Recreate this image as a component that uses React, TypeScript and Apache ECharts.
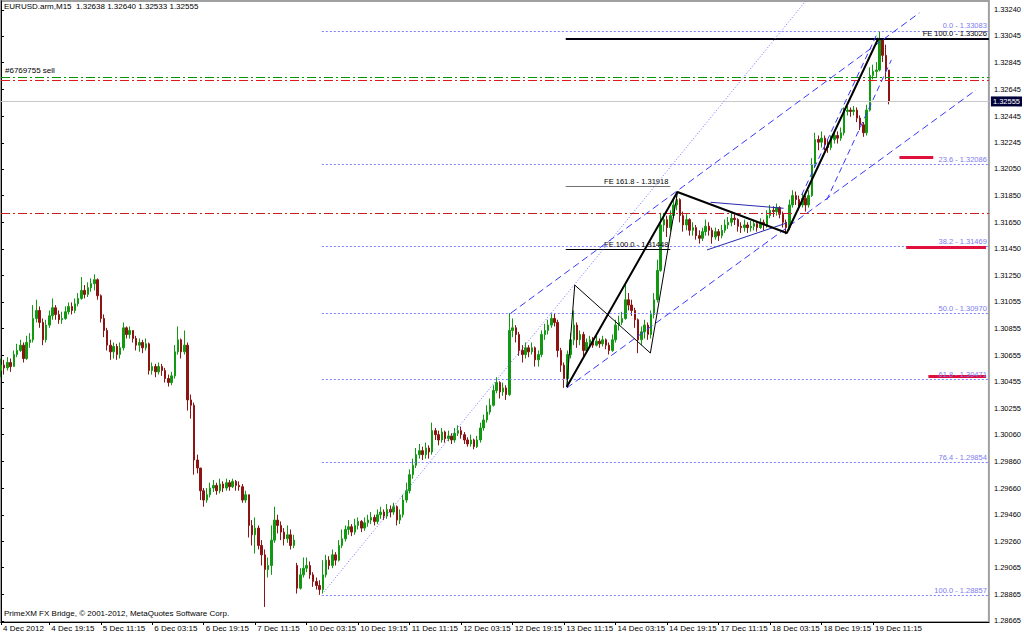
import React, { useEffect, useRef } from "react";
import * as echarts from "echarts";

// ---------- categories (hourly bars, :15) ----------
const tradingDays = ["4 Dec", "5 Dec", "6 Dec", "7 Dec", "10 Dec", "11 Dec", "12 Dec", "13 Dec", "14 Dec", "17 Dec", "18 Dec", "19 Dec"];
const firstBarHour = 4;
const lastBarHour = 16;
const emptySlots = 31;
const firstLabel = "4 Dec 2012";

// ---------- OHLC values ----------
const opens = [
  1.3054, 1.3058, 1.3056, 1.3060, 1.3057, 1.3066, 1.3069, 1.3073, 1.3063, 1.3075,
  1.3077, 1.3093, 1.3099, 1.3090, 1.3077, 1.3088, 1.3095, 1.3101, 1.3096, 1.3092,
  1.3093, 1.3098, 1.3102, 1.3099, 1.3104, 1.3108, 1.3114, 1.3111, 1.3116, 1.3119,
  1.3122, 1.3110, 1.3093, 1.3084, 1.3073, 1.3068, 1.3072, 1.3066, 1.3071, 1.3086,
  1.3081, 1.3084, 1.3078, 1.3073, 1.3075, 1.3071, 1.3074, 1.3054, 1.3057, 1.3053,
  1.3057, 1.3054, 1.3048, 1.3045, 1.3050, 1.3068, 1.3077, 1.3068, 1.3073, 1.3032,
  1.3028, 1.2987, 1.2981, 1.2964, 1.2957, 1.2961, 1.2966, 1.2968, 1.2964, 1.2969,
  1.2966, 1.2970, 1.2967, 1.2971, 1.2968, 1.2967, 1.2957, 1.2961, 1.2938, 1.2931,
  1.2936, 1.2923, 1.2916, 1.2905, 1.2908, 1.2927, 1.2942, 1.2938, 1.2933, 1.2928,
  1.2931, 1.2923, 1.2908, 1.2891, 1.2901, 1.2906, 1.2908, 1.2901, 1.2896, 1.2893,
  1.2890, 1.2901, 1.2912, 1.2908, 1.2916, 1.2912, 1.2923, 1.2928, 1.2935, 1.2937,
  1.2933, 1.2938, 1.2941, 1.2936, 1.2940, 1.2942, 1.2944, 1.2941, 1.2946, 1.2948,
  1.2945, 1.2950, 1.2948, 1.2952, 1.2942, 1.2946, 1.2957, 1.2964, 1.2976, 1.2983,
  1.2991, 1.2994, 1.2991, 1.2996, 1.2993, 1.3009, 1.3006, 1.3002, 1.3008, 1.3003,
  1.3005, 1.3002, 1.3007, 1.3009, 1.3006, 1.3002, 1.2999, 1.3002, 1.2997, 1.3002,
  1.3011, 1.3017, 1.3023, 1.3028, 1.3039, 1.3045, 1.3038, 1.3041, 1.3036, 1.3084,
  1.3086, 1.3081, 1.3069, 1.3066, 1.3071, 1.3068, 1.3071, 1.3062, 1.3066, 1.3081,
  1.3084, 1.3088, 1.3093, 1.3090, 1.3069, 1.3058, 1.3048, 1.3066, 1.3077, 1.3088,
  1.3077, 1.3081, 1.3069, 1.3075, 1.3077, 1.3073, 1.3076, 1.3074, 1.3077, 1.3073,
  1.3069, 1.3077, 1.3088, 1.3090, 1.3093, 1.3107, 1.3103, 1.3099, 1.3092, 1.3077,
  1.3083, 1.3088, 1.3081, 1.3096, 1.3107, 1.3129, 1.3163, 1.3167, 1.3161, 1.3170,
  1.3178, 1.3182, 1.3170, 1.3163, 1.3167, 1.3159, 1.3161, 1.3155, 1.3153, 1.3158,
  1.3162, 1.3159, 1.3154, 1.3158, 1.3155, 1.3159, 1.3163, 1.3165, 1.3168, 1.3167,
  1.3162, 1.3161, 1.3163, 1.3161, 1.3162, 1.3164, 1.3161, 1.3165, 1.3163, 1.3170,
  1.3174, 1.3173, 1.3176, 1.3171, 1.3165, 1.3161, 1.3178, 1.3185, 1.3182, 1.3178,
  1.3183, 1.3178, 1.3185, 1.3208, 1.3227, 1.3225, 1.3228, 1.3223, 1.3221, 1.3227,
  1.3230, 1.3228, 1.3232, 1.3248, 1.3249, 1.3248, 1.3249, 1.3243, 1.3238, 1.3232,
  1.3249, 1.3275, 1.3278, 1.3279, 1.3302, 1.3290, 1.3279,
];
const highs = [
  1.3063, 1.3062, 1.3064, 1.3063, 1.3069, 1.3074, 1.3077, 1.3075, 1.3080, 1.3082,
  1.3103, 1.3107, 1.3102, 1.3093, 1.3092, 1.3099, 1.3108, 1.3103, 1.3099, 1.3098,
  1.3102, 1.3105, 1.3105, 1.3108, 1.3112, 1.3124, 1.3118, 1.3120, 1.3123, 1.3126,
  1.3123, 1.3111, 1.3096, 1.3086, 1.3077, 1.3075, 1.3074, 1.3075, 1.3090, 1.3087,
  1.3087, 1.3084, 1.3080, 1.3078, 1.3077, 1.3078, 1.3075, 1.3060, 1.3059, 1.3060,
  1.3059, 1.3056, 1.3051, 1.3053, 1.3073, 1.3087, 1.3078, 1.3084, 1.3075, 1.3036,
  1.3030, 1.2991, 1.2980, 1.2966, 1.2966, 1.2970, 1.2972, 1.2970, 1.2973, 1.2971,
  1.2973, 1.2972, 1.2973, 1.2972, 1.2971, 1.2969, 1.2964, 1.2961, 1.2942, 1.2944,
  1.2938, 1.2927, 1.2920, 1.2914, 1.2938, 1.2952, 1.2946, 1.2941, 1.2936, 1.2938,
  1.2935, 1.2931, 1.2910, 1.2906, 1.2914, 1.2914, 1.2911, 1.2903, 1.2899, 1.2897,
  1.2912, 1.2916, 1.2915, 1.2920, 1.2918, 1.2927, 1.2935, 1.2938, 1.2942, 1.2939,
  1.2943, 1.2944, 1.2942, 1.2944, 1.2946, 1.2948, 1.2946, 1.2950, 1.2952, 1.2950,
  1.2954, 1.2953, 1.2955, 1.2953, 1.2950, 1.2961, 1.2970, 1.2980, 1.2988, 1.2996,
  1.2999, 1.2997, 1.3000, 1.2998, 1.3015, 1.3011, 1.3009, 1.3011, 1.3009, 1.3009,
  1.3007, 1.3011, 1.3013, 1.3012, 1.3008, 1.3004, 1.3006, 1.3003, 1.3005, 1.3015,
  1.3021, 1.3028, 1.3033, 1.3043, 1.3049, 1.3046, 1.3045, 1.3043, 1.3097, 1.3093,
  1.3088, 1.3083, 1.3073, 1.3075, 1.3073, 1.3075, 1.3072, 1.3069, 1.3084, 1.3089,
  1.3092, 1.3097, 1.3097, 1.3092, 1.3071, 1.3060, 1.3069, 1.3082, 1.3099, 1.3090,
  1.3084, 1.3083, 1.3078, 1.3080, 1.3079, 1.3080, 1.3078, 1.3080, 1.3078, 1.3075,
  1.3081, 1.3092, 1.3095, 1.3098, 1.3120, 1.3112, 1.3107, 1.3101, 1.3093, 1.3087,
  1.3092, 1.3090, 1.3099, 1.3112, 1.3137, 1.3172, 1.3172, 1.3170, 1.3174, 1.3183,
  1.3188, 1.3183, 1.3173, 1.3171, 1.3168, 1.3165, 1.3163, 1.3159, 1.3161, 1.3167,
  1.3165, 1.3161, 1.3161, 1.3160, 1.3163, 1.3167, 1.3169, 1.3172, 1.3171, 1.3168,
  1.3165, 1.3167, 1.3165, 1.3166, 1.3167, 1.3166, 1.3168, 1.3167, 1.3174, 1.3178,
  1.3177, 1.3179, 1.3177, 1.3173, 1.3167, 1.3182, 1.3189, 1.3188, 1.3185, 1.3187,
  1.3185, 1.3189, 1.3213, 1.3232, 1.3230, 1.3233, 1.3230, 1.3227, 1.3230, 1.3234,
  1.3233, 1.3236, 1.3251, 1.3252, 1.3251, 1.3252, 1.3251, 1.3245, 1.3240, 1.3253,
  1.3281, 1.3283, 1.3285, 1.3308, 1.3303, 1.3298, 1.3279,
];
const lows = [
  1.3049, 1.3051, 1.3054, 1.3053, 1.3057, 1.3064, 1.3068, 1.3060, 1.3062, 1.3071,
  1.3075, 1.3090, 1.3086, 1.3073, 1.3075, 1.3086, 1.3092, 1.3092, 1.3089, 1.3089,
  1.3092, 1.3096, 1.3096, 1.3097, 1.3102, 1.3107, 1.3108, 1.3109, 1.3113, 1.3114,
  1.3107, 1.3090, 1.3079, 1.3069, 1.3062, 1.3063, 1.3062, 1.3063, 1.3069, 1.3078,
  1.3078, 1.3075, 1.3069, 1.3068, 1.3067, 1.3069, 1.3051, 1.3051, 1.3049, 1.3051,
  1.3050, 1.3045, 1.3042, 1.3043, 1.3048, 1.3066, 1.3063, 1.3066, 1.3024, 1.3018,
  1.2976, 1.2977, 1.2957, 1.2952, 1.2955, 1.2959, 1.2963, 1.2961, 1.2962, 1.2963,
  1.2964, 1.2964, 1.2966, 1.2964, 1.2964, 1.2955, 1.2955, 1.2929, 1.2923, 1.2917,
  1.2920, 1.2908, 1.2877, 1.2899, 1.2901, 1.2925, 1.2932, 1.2927, 1.2923, 1.2925,
  1.2920, 1.2921, 1.2887, 1.2890, 1.2899, 1.2903, 1.2898, 1.2892, 1.2890, 1.2886,
  1.2887, 1.2899, 1.2905, 1.2906, 1.2908, 1.2911, 1.2921, 1.2926, 1.2931, 1.2930,
  1.2931, 1.2935, 1.2933, 1.2934, 1.2937, 1.2939, 1.2938, 1.2939, 1.2943, 1.2942,
  1.2943, 1.2944, 1.2946, 1.2938, 1.2939, 1.2944, 1.2955, 1.2962, 1.2973, 1.2981,
  1.2988, 1.2987, 1.2988, 1.2988, 1.2991, 1.3002, 1.2998, 1.3000, 1.3000, 1.3001,
  1.2999, 1.3000, 1.3005, 1.3003, 1.2999, 1.2997, 1.2997, 1.2995, 1.2996, 1.3000,
  1.3009, 1.3015, 1.3021, 1.3027, 1.3037, 1.3033, 1.3035, 1.3032, 1.3035, 1.3079,
  1.3075, 1.3065, 1.3060, 1.3063, 1.3064, 1.3066, 1.3057, 1.3057, 1.3064, 1.3077,
  1.3081, 1.3086, 1.3087, 1.3064, 1.3053, 1.3041, 1.3043, 1.3063, 1.3073, 1.3071,
  1.3073, 1.3064, 1.3067, 1.3072, 1.3071, 1.3072, 1.3071, 1.3072, 1.3070, 1.3066,
  1.3068, 1.3075, 1.3084, 1.3088, 1.3092, 1.3099, 1.3095, 1.3086, 1.3067, 1.3073,
  1.3078, 1.3077, 1.3078, 1.3093, 1.3105, 1.3128, 1.3158, 1.3154, 1.3158, 1.3168,
  1.3174, 1.3165, 1.3158, 1.3159, 1.3155, 1.3155, 1.3152, 1.3149, 1.3151, 1.3155,
  1.3155, 1.3149, 1.3152, 1.3151, 1.3153, 1.3157, 1.3160, 1.3162, 1.3163, 1.3158,
  1.3157, 1.3158, 1.3157, 1.3158, 1.3159, 1.3158, 1.3160, 1.3159, 1.3161, 1.3168,
  1.3169, 1.3170, 1.3168, 1.3161, 1.3156, 1.3159, 1.3176, 1.3178, 1.3174, 1.3176,
  1.3173, 1.3176, 1.3184, 1.3206, 1.3219, 1.3221, 1.3219, 1.3217, 1.3219, 1.3224,
  1.3224, 1.3226, 1.3230, 1.3245, 1.3244, 1.3245, 1.3240, 1.3234, 1.3229, 1.3230,
  1.3248, 1.3272, 1.3273, 1.3278, 1.3285, 1.3272, 1.32533,
];
const closes = [
  1.3058, 1.3056, 1.3060, 1.3057, 1.3066, 1.3069, 1.3073, 1.3063, 1.3075, 1.3077,
  1.3093, 1.3099, 1.3090, 1.3077, 1.3088, 1.3095, 1.3101, 1.3096, 1.3092, 1.3093,
  1.3098, 1.3102, 1.3099, 1.3104, 1.3108, 1.3114, 1.3111, 1.3116, 1.3119, 1.3122,
  1.3110, 1.3093, 1.3084, 1.3073, 1.3068, 1.3072, 1.3066, 1.3071, 1.3086, 1.3081,
  1.3084, 1.3078, 1.3073, 1.3075, 1.3071, 1.3074, 1.3054, 1.3057, 1.3053, 1.3057,
  1.3054, 1.3048, 1.3045, 1.3050, 1.3068, 1.3077, 1.3068, 1.3073, 1.3032, 1.3028,
  1.2987, 1.2981, 1.2964, 1.2957, 1.2961, 1.2966, 1.2968, 1.2964, 1.2969, 1.2966,
  1.2970, 1.2967, 1.2971, 1.2968, 1.2967, 1.2957, 1.2961, 1.2938, 1.2931, 1.2936,
  1.2923, 1.2916, 1.2905, 1.2908, 1.2927, 1.2942, 1.2938, 1.2933, 1.2928, 1.2931,
  1.2923, 1.2927, 1.2891, 1.2901, 1.2906, 1.2908, 1.2901, 1.2896, 1.2893, 1.2890,
  1.2901, 1.2912, 1.2908, 1.2916, 1.2912, 1.2923, 1.2928, 1.2935, 1.2937, 1.2933,
  1.2938, 1.2941, 1.2936, 1.2940, 1.2942, 1.2944, 1.2941, 1.2946, 1.2948, 1.2945,
  1.2950, 1.2948, 1.2952, 1.2942, 1.2946, 1.2957, 1.2964, 1.2976, 1.2983, 1.2991,
  1.2994, 1.2991, 1.2996, 1.2993, 1.3009, 1.3006, 1.3002, 1.3008, 1.3003, 1.3005,
  1.3002, 1.3007, 1.3009, 1.3006, 1.3002, 1.2999, 1.3002, 1.2997, 1.3002, 1.3011,
  1.3017, 1.3023, 1.3028, 1.3039, 1.3045, 1.3038, 1.3041, 1.3036, 1.3084, 1.3086,
  1.3081, 1.3069, 1.3066, 1.3071, 1.3068, 1.3071, 1.3062, 1.3066, 1.3081, 1.3084,
  1.3088, 1.3093, 1.3090, 1.3069, 1.3058, 1.3048, 1.3066, 1.3077, 1.3088, 1.3077,
  1.3081, 1.3069, 1.3075, 1.3077, 1.3073, 1.3076, 1.3074, 1.3077, 1.3073, 1.3069,
  1.3077, 1.3088, 1.3090, 1.3093, 1.3107, 1.3103, 1.3099, 1.3092, 1.3077, 1.3083,
  1.3088, 1.3081, 1.3096, 1.3107, 1.3129, 1.3163, 1.3167, 1.3161, 1.3170, 1.3178,
  1.3182, 1.3170, 1.3163, 1.3167, 1.3159, 1.3161, 1.3155, 1.3153, 1.3158, 1.3162,
  1.3159, 1.3154, 1.3158, 1.3155, 1.3159, 1.3163, 1.3165, 1.3168, 1.3167, 1.3162,
  1.3161, 1.3163, 1.3161, 1.3162, 1.3164, 1.3161, 1.3165, 1.3163, 1.3170, 1.3174,
  1.3173, 1.3176, 1.3171, 1.3165, 1.3161, 1.3178, 1.3185, 1.3182, 1.3178, 1.3183,
  1.3178, 1.3185, 1.3208, 1.3227, 1.3225, 1.3228, 1.3223, 1.3221, 1.3227, 1.3230,
  1.3228, 1.3232, 1.3248, 1.3249, 1.3248, 1.3249, 1.3243, 1.3238, 1.3232, 1.3249,
  1.3275, 1.3278, 1.3279, 1.3302, 1.3290, 1.3279, 1.32555,
];

// ---------- price scale ticks ----------
const priceTicks = [
  1.3324, 1.33045, 1.32845, 1.32645, 1.32445, 1.32245, 1.3205, 1.3185, 1.3165, 1.3145, 1.3125, 1.31055,
  1.30855, 1.30655, 1.30455, 1.30255, 1.3006, 1.2986, 1.2966, 1.2946, 1.2926, 1.29065, 1.28865, 1.28665,
];
const priceMin = 1.28657;
const priceMax = 1.33307;
const bidPrice = 1.32555;

// ---------- header / footer ----------
const headerText = "EURUSD.arm,M15  1.32638 1.32640 1.32533 1.32555";
const footerText = "PrimeXM FX Bridge, \u00a9 2001-2012, MetaQuotes Software Corp.";

// ---------- order lines ----------
const orderLabel = "#6769755 sell";
const orderOpenPrice = 1.32738;
const orderSellPrice = 1.32716;
const takeProfitPrice = 1.3172;

// ---------- Fibonacci retracement ----------
const fibLevels = ["0.0", "23.6", "38.2", "50.0", "61.8", "76.4", "100.0"];
const fibPrices = [1.33083, 1.32086, 1.31469, 1.3097, 1.30471, 1.29854, 1.28857];
const fibStartBar = 99.7;

// ---------- Fibonacci expansion ----------
const feNames = ["FE 100.0", "FE 161.8", "FE 100.0"];
const fePrices = [1.33026, 1.31918, 1.31448];
const feStartBars = [175.5, 175.5, 175.5];
const feEndBars = [307, 208, 208];

// ---------- Elliott wave labels ----------
const waveNames = ["(A)", "(B)", "(C)", "A", "B", "C"];
const waveBars = [157.8, 175.2, 272.7, 210.2, 244.2, 272.7];
const wavePrices = [1.31083, 1.30319, 1.33255, 1.31967, 1.31487, 1.33158];

// ---------- drawn lines: [bar, price] ----------
const waveZigzag = [[175.8, 1.30416], [210.2, 1.31877], [244.2, 1.3157], [272.7, 1.3303]];
const subWaveZigzag = [[175.8, 1.30416], [178.3, 1.3118], [201.8, 1.30671], [210.2, 1.3187]];
const triangleUpper = [[220.5, 1.318], [243.2, 1.31755]];
const triangleLower = [[219.4, 1.31443], [244.2, 1.31645]];
const channelUpper = [[158.5, 1.30971], [285.4, 1.33218]];
const channelLower = [[175.8, 1.30409], [303.0, 1.32641]];
const cLegLeft = [[248.8, 1.31854], [272.1, 1.33053]];
const cLegRight = [[256.6, 1.31817], [276.7, 1.32866]];
const dottedTrend = [[100.3, 1.28881], [250.1, 1.33308]];
const targetBars = [[279.2, 289.7], [281.3, 306.1], [288.2, 306.1]];
const targetPrices = [1.32139, 1.31465, 1.30499];

const SANS = "'Liberation Sans', Arial, sans-serif";
const SERIF = "'Liberation Serif', 'Times New Roman', serif";

function buildOption() {
  const times: string[] = [];
  tradingDays.forEach((d, di) => {
    const h0 = di === 0 ? firstBarHour : 0;
    const h1 = di === tradingDays.length - 1 ? lastBarHour : 23;
    for (let h = h0; h <= h1; h++) times.push(`${d} ${String(h).padStart(2, "0")}:15`);
  });
  const realCount = times.length;
  const categories = [...times];
  for (let k = 0; k < emptySlots; k++) categories.push(`_${k}`);
  const lastIdx = categories.length - 1;

  const candles = closes.map((c, i) => {
    const o = opens[i];
    return [o, c, Math.min(lows[i], o, c), Math.max(highs[i], o, c)];
  });

  const showLabel = (index: number) =>
    index === 0 || (index >= 15 && (index - 15) % 16 === 0 && index < realCount);

  const lineS = (points: number[][], style: any, z = 5) => ({
    type: "line",
    xAxisIndex: 1,
    yAxisIndex: 0,
    data: points,
    symbol: "none",
    silent: true,
    clip: true,
    z,
    lineStyle: style,
  });

  const labelStyle = (color: string, size = 7.5) => ({
    show: true,
    color,
    fontSize: size,
    fontFamily: SANS,
    distance: [2, 1],
  });

  const segs: any[] = [];
  segs.push([
    { coord: [0, takeProfitPrice], lineStyle: { color: "#c82020", width: 1, type: [9, 3, 2, 3] }, label: { show: false } },
    { coord: [lastIdx, takeProfitPrice] },
  ]);
  segs.push([
    { coord: [0, bidPrice], lineStyle: { color: "#c8c8c8", width: 1, type: "solid" }, label: {
      show: true,
      position: "end",
      formatter: bidPrice.toFixed(5),
      color: "#fff",
      backgroundColor: "#000038",
      padding: [1, 2, 1, 2],
      fontSize: 7.5,
      fontFamily: SANS,
      distance: 2,
    } },
    { coord: [lastIdx, bidPrice] },
  ]);
  segs.push([
    { coord: [0, orderOpenPrice], lineStyle: { color: "#009a00", width: 1, type: [9, 3, 2, 3] },
      label: { show: true, position: "insideStartTop", formatter: orderLabel, color: "#000", fontSize: 8, fontFamily: SANS, distance: [4, 2] } },
    { coord: [lastIdx, orderOpenPrice] },
  ]);
  segs.push([
    { coord: [0, orderSellPrice], lineStyle: { color: "#e01818", width: 1, type: [9, 3, 2, 3] }, label: { show: false } },
    { coord: [lastIdx, orderSellPrice] },
  ]);
  fibLevels.forEach((lv, i) => {
    segs.push([
      {
        coord: [fibStartBar, fibPrices[i]],
        lineStyle: { color: "#8080f8", width: 1, type: [2, 2] },
        label: { ...labelStyle("#7c7cf0"), position: "insideEndTop", formatter: `${lv} - ${fibPrices[i].toFixed(5)}` },
      },
      { coord: [lastIdx, fibPrices[i]] },
    ]);
  });
  feNames.forEach((n, i) => {
    segs.push([
      {
        coord: [feStartBars[i], fePrices[i]],
        lineStyle: { color: i === 0 ? "#000010" : i === 1 ? "#707070" : "#000000", width: i === 0 ? 2 : 1, type: "solid" },
        label: { ...labelStyle("#000000"), position: "insideEndTop", formatter: `${n} - ${fePrices[i].toFixed(5)}` },
      },
      { coord: [feEndBars[i], fePrices[i]] },
    ]);
  });
  targetPrices.forEach((p, i) => {
    segs.push([
      { coord: [targetBars[i][0], p], lineStyle: { color: "#e0103c", width: 3, type: "solid" }, label: { show: false } },
      { coord: [targetBars[i][1], p] },
    ]);
  });

  return {
    animation: false,
    backgroundColor: "#ffffff",
    title: {
      text: headerText,
      left: 4,
      top: 2,
      padding: 0,
      textStyle: { fontSize: 8, fontWeight: "normal", color: "#000", fontFamily: SANS },
    },
    graphic: [
      {
        type: "text",
        left: 4,
        top: 609,
        silent: true,
        style: { text: footerText, fill: "#000", fontSize: 8, fontFamily: SANS },
      },
    ],
    grid: { left: 1, right: 31, top: 1, bottom: 14, show: true, borderColor: "#a0a0a0", borderWidth: 2, backgroundColor: "#fff" },
    xAxis: [
      {
        type: "category",
        data: categories,
        boundaryGap: false,
        axisLine: { lineStyle: { color: "#000", width: 1 } },
        axisTick: { show: true, interval: showLabel, length: 3, lineStyle: { color: "#000" } },
        axisLabel: {
          interval: showLabel,
          formatter: (v: string, i: number) => (i === 0 ? firstLabel : v),
          align: "left",
          fontSize: 8,
          fontFamily: SANS,
          color: "#000",
          margin: 2,
          padding: [0, 0, 0, 2],
        },
        splitLine: { show: false },
      },
      { type: "value", min: 0, max: lastIdx, show: false },
    ],
    yAxis: {
      type: "value",
      position: "right",
      min: priceMin,
      max: priceMax,
      scale: true,
      axisLine: { show: true, lineStyle: { color: "#000", width: 1 } },
      axisTick: { show: true, customValues: priceTicks, length: 3, lineStyle: { color: "#000" } },
      axisLabel: {
        customValues: priceTicks,
        formatter: (v: number) => v.toFixed(5),
        fontSize: 7.5,
        fontFamily: SANS,
        color: "#000",
        margin: 5,
      },
      splitLine: { show: false },
    },
    series: [
      {
        type: "line",
        xAxisIndex: 1,
        yAxisIndex: 0,
        data: [[0, bidPrice]],
        symbol: "none",
        silent: true,
        z: 2,
        lineStyle: { width: 0 },
        markLine: { symbol: ["none", "none"], silent: true, data: segs },
      },
      {
        type: "candlestick",
        xAxisIndex: 0,
        yAxisIndex: 0,
        data: candles,
        barWidth: 2,
        silent: true,
        z: 3,
        itemStyle: { color: "#119a11", color0: "#8c1414", borderColor: "#119a11", borderColor0: "#8c1414", borderWidth: 1 },
      },
      lineS(dottedTrend, { color: "#7070ff", width: 1, type: [1, 2] }),
      lineS(channelUpper, { color: "#3838ff", width: 1, type: [7, 4] }),
      lineS(channelLower, { color: "#3838ff", width: 1, type: [7, 4] }),
      lineS(cLegLeft, { color: "#3838ff", width: 1, type: [6, 4] }),
      lineS(cLegRight, { color: "#3838ff", width: 1, type: [6, 4] }),
      lineS(triangleUpper, { color: "#2828b0", width: 1 }),
      lineS(triangleLower, { color: "#2828b0", width: 1 }),
      lineS(subWaveZigzag, { color: "#000", width: 1 }),
      lineS(waveZigzag, { color: "#000", width: 2 }, 6),
      {
        type: "scatter",
        xAxisIndex: 1,
        yAxisIndex: 0,
        symbolSize: 1,
        itemStyle: { opacity: 0 },
        silent: true,
        z: 7,
        data: waveNames.map((n, i) => ({ name: n, value: [waveBars[i], wavePrices[i]] })),
        label: {
          show: true,
          position: "inside",
          formatter: "{b}",
          color: "#8b1414",
          fontFamily: SERIF,
          fontWeight: "bold",
          fontSize: 11,
        },
      },
    ],
  };
}

export default function App() {
  const ref = useRef<HTMLDivElement>(null);
  useEffect(() => {
    const chart = echarts.init(ref.current!, undefined, { renderer: "svg" });
    chart.setOption(buildOption() as any);
    return () => chart.dispose();
  }, []);
  return <div ref={ref} style={{ position: "fixed", left: 0, top: 0, width: 1024, height: 636, background: "#fff" }} />;
}
